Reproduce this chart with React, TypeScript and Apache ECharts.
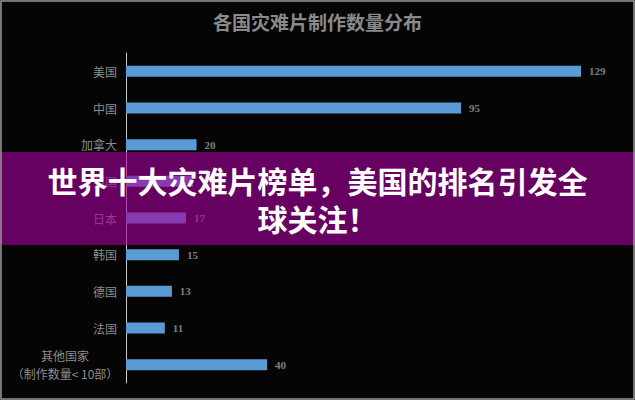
import React, { useEffect, useRef } from 'react';
import * as echarts from 'echarts';

const countries = ['美国', '中国', '加拿大', '英国', '日本', '韩国', '德国', '法国', '其他国家'];
const films = [129, 95, 20, 19, 17, 15, 13, 11, 40];
const otherNote = '（制作数量< 10部）';
const chartTitle = '各国灾难片制作数量分布';
const bannerLines = ['世界十大灾难片榜单，美国的排名引发全', '球关注！'];

const App = () => {
  const chartRef = useRef<any>(null);

  useEffect(() => {
    document.body.style.margin = '0';
    const chart = echarts.init(chartRef.current, null, { renderer: 'svg' });

    const option: any = {
      animation: false,
      backgroundColor: '#050505',
      title: {
        text: chartTitle,
        left: 'center',
        top: 12,
        padding: 0,
        textStyle: {
          color: '#8a8a8a',
          fontSize: 19,
          fontWeight: 'bold',
          fontFamily: '"Noto Sans CJK SC", sans-serif',
        },
      },
      grid: { left: 126, right: 54, top: 53, bottom: 17, containLabel: false },
      xAxis: {
        type: 'value',
        min: 0,
        max: 'dataMax',
        show: false,
      },
      yAxis: {
        type: 'category',
        inverse: true,
        data: countries,
        axisLine: { lineStyle: { color: '#c8c8c8', width: 1 } },
        axisTick: { show: false },
        axisLabel: {
          margin: 9,
          color: '#8c8c8c',
          fontSize: 12,
          fontFamily: '"Noto Sans CJK SC", sans-serif',
          formatter: (v: string) =>
            v === '其他国家' ? `{c|${v}}\n{c|${otherNote}}` : v,
          rich: {
            c: {
              width: 104,
              align: 'center',
              color: '#8c8c8c',
              fontSize: 12,
              lineHeight: 18,
              fontFamily: '"Noto Sans CJK SC", sans-serif',
            },
          },
        },
      },
      series: [
        {
          type: 'bar',
          data: films,
          barWidth: 11,
          itemStyle: { color: '#5b9bd5' },
          label: {
            show: true,
            position: 'right',
            distance: 8,
            color: '#7f7f7f',
            fontSize: 11,
            fontWeight: 'bold',
            fontFamily: '"Liberation Serif", serif',
          },
        },
      ],
      graphic: [
        {
          type: 'rect',
          z: 100,
          shape: { x: 0, y: 152, width: 635, height: 93 },
          style: { fill: 'rgba(165,0,155,0.62)' },
        },
        {
          type: 'text',
          z: 101,
          x: 317.5,
          y: 199,
          style: {
            text: bannerLines.join('\n'),
            fill: '#ffffff',
            fontSize: 30,
            lineHeight: 38,
            fontWeight: 'bold',
            fontFamily: '"Noto Sans CJK SC", sans-serif',
            align: 'center',
            verticalAlign: 'middle',
          },
        },
        {
          type: 'rect',
          z: 102,
          shape: { x: 1, y: 1, width: 633, height: 398 },
          style: { fill: 'none', stroke: '#9a9a9a', lineWidth: 1.5 },
        },
      ],
    };

    chart.setOption(option);

    return () => {
      chart.dispose();
    };
  }, []);

  return <div ref={chartRef} style={{ width: '635px', height: '400px' }} />;
};

export default App;
